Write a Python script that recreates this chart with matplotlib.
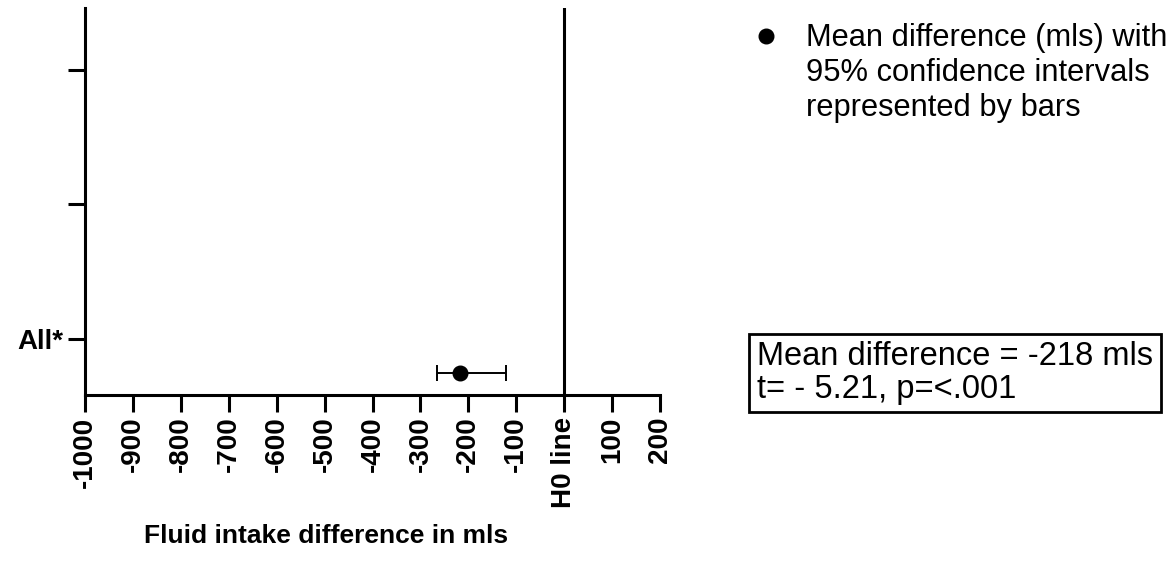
import matplotlib.pyplot as plt
from matplotlib.lines import Line2D

plt.rcParams['font.family'] = ['Liberation Sans', 'DejaVu Sans']

# Datos
grupos = ['All*', '', '']
diferencia_media = -218
ic_inferior = -266
ic_superior = -121
t_valor = -5.21
ticks_x = list(range(-1000, 201, 100))
etiquetas_x = [str(v) if v != 0 else 'H0 line' for v in ticks_x]

fig = plt.figure(figsize=(11.71, 5.63), dpi=100)
ax = fig.add_axes([85 / 1171, 168 / 563, 575 / 1171, 387 / 563])

# Punto con el intervalo de confianza del 95%
y_punto = 0.745
ax.errorbar([diferencia_media], [y_punto],
            xerr=[[diferencia_media - ic_inferior], [ic_superior - diferencia_media]],
            fmt='o', color='black', markersize=10.5, elinewidth=1.4,
            capsize=6, capthick=1.4)

# Línea H0
ax.axvline(0, color='black', linewidth=2.2)

ax.set_xlim(-1000, 200)
ax.set_ylim(0.58, 3.46)
ax.set_xticks(ticks_x)
ax.set_xticklabels(etiquetas_x, rotation=90, fontsize=20, fontweight='bold')
ax.set_yticks([1, 2, 3])
ax.set_yticklabels(grupos, fontsize=20, fontweight='bold')

for lado in ['top', 'right']:
    ax.spines[lado].set_visible(False)
for lado in ['left', 'bottom']:
    ax.spines[lado].set_linewidth(2.2)
ax.tick_params(axis='both', width=2.2, length=12, pad=3.5)

fig.text(326.5 / 1171, 1 - 536 / 563, 'Fluid intake difference in mls',
         fontsize=19, fontweight='bold', ha='center', va='center')

# Leyenda: punto y texto
fig.add_artist(Line2D([766 / 1171], [1 - 36 / 563], marker='o', markersize=10.5,
                      color='black', transform=fig.transFigure))
fig.text(806 / 1171, 1 - 23 / 563,
         'Mean difference (mls) with\n95% confidence intervals\nrepresented by bars',
         fontsize=22.2, ha='left', va='top', linespacing=1.22)

# Cuadro con el resultado de la prueba t
fig.text(757 / 1171, 1 - 373 / 563,
         f'Mean difference = {diferencia_media} mls\nt= - {abs(t_valor):.2f}, p=<.001',
         fontsize=23.5, ha='left', va='center', linespacing=1.05,
         bbox=dict(boxstyle='square,pad=0.24', facecolor='white', edgecolor='black', linewidth=2))

fig.savefig('out.png', dpi=100)
